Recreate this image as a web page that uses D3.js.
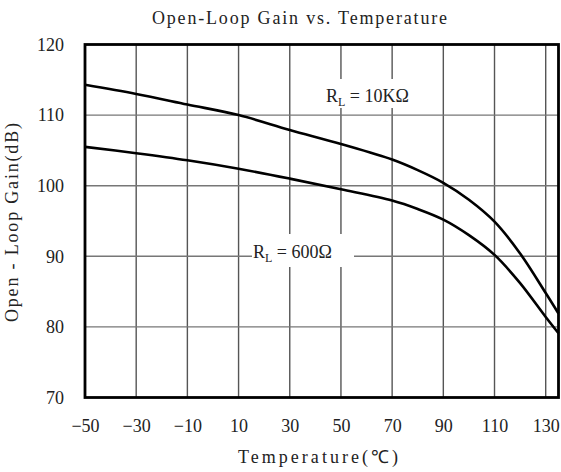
<!DOCTYPE html>
<html>
<head>
<meta charset="utf-8">
<script src="https://cdn.jsdelivr.net/npm/d3@7"></script>
<style>
  html, body { margin: 0; padding: 0; background: #fff; }
  svg { display: block; }
</style>
</head>
<body>
<svg id="chart" width="561" height="472"></svg>
<script>
// Open-loop gain (dB) versus ambient temperature (°C) for two load resistances
const temperature = [-50, -30, -10, 10, 30, 50, 70, 80, 90, 100, 110, 120, 130, 135];
const gain10k     = [114.3, 113.0, 111.5, 110.0, 107.9, 105.9, 103.7, 102.2, 100.4, 98.0, 94.9, 90.4, 84.8, 81.9];
const gain600     = [105.5, 104.6, 103.6, 102.4, 101.0, 99.5, 97.9, 96.7, 95.2, 93.0, 90.2, 86.2, 81.4, 79.1];
const xTicks = [-50, -30, -10, 10, 30, 50, 70, 90, 110, 130];
const yTicks = [70, 80, 90, 100, 110, 120];

const svg = d3.select("#chart");
const plotLeft = 85, plotRight = 558.5, plotTop = 44.5, plotBottom = 397.5;

const x = d3.scaleLinear().domain([-50, 135]).range([plotLeft, plotRight]);
const y = d3.scaleLinear().domain([70, 120]).range([plotBottom, plotTop]);

const serif = "'Liberation Serif', 'Times New Roman', serif";

// grid
const grid = svg.append("g");
grid.selectAll("line.v").data(xTicks.slice(1)).join("line")
  .attr("x1", d => x(d)).attr("x2", d => x(d))
  .attr("y1", plotTop).attr("y2", plotBottom)
  .attr("stroke", "#555").attr("stroke-width", 1.4);
grid.selectAll("line.h").data(yTicks.slice(1, -1)).join("line")
  .attr("x1", plotLeft).attr("x2", plotRight)
  .attr("y1", d => y(d)).attr("y2", d => y(d))
  .attr("stroke", "#777").attr("stroke-width", 1.4);

// axes (labels only; the frame is drawn separately)
const xAxis = svg.append("g").attr("transform", `translate(0,${plotBottom})`)
  .call(d3.axisBottom(x).tickValues(xTicks).tickSize(0).tickPadding(22)
    .tickFormat(d => d < 0 ? "\u2212" + Math.abs(d) : d));
xAxis.select(".domain").remove();
xAxis.selectAll("text").attr("font-family", serif).attr("font-size", 18).attr("fill", "#222");

const yAxis = svg.append("g").attr("transform", `translate(${plotLeft},0)`)
  .call(d3.axisLeft(y).tickValues(yTicks).tickSize(0).tickPadding(21));
yAxis.select(".domain").remove();
yAxis.selectAll("text").attr("font-family", serif).attr("font-size", 18).attr("fill", "#222");

// curves
const line = d3.line().x((d, i) => x(temperature[i])).y(d => y(d))
  .curve(d3.curveCatmullRom.alpha(0.5));
[gain10k, gain600].forEach(s => {
  svg.append("path").attr("d", line(s))
    .attr("fill", "none").attr("stroke", "#000").attr("stroke-width", 2.6);
});

// load labels with white backing
function loadLabel(x0, y0, w, h, tx, ty, value) {
  svg.append("rect").attr("x", x0).attr("y", y0).attr("width", w).attr("height", h).attr("fill", "#fff");
  const t = svg.append("text").attr("x", tx).attr("y", ty)
    .attr("font-family", serif).attr("font-size", 18).attr("fill", "#222");
  t.append("tspan").text("R");
  t.append("tspan").attr("font-size", 12).attr("dy", 4).text("L");
  t.append("tspan").attr("dy", -4).text(" = " + value + "\u03A9");
}
loadLabel(322, 79, 98, 29, 326, 102, "10K");
loadLabel(252, 234, 102, 33, 253, 258, "600");

// frame
svg.append("rect").attr("x", plotLeft).attr("y", plotTop)
  .attr("width", plotRight - plotLeft).attr("height", plotBottom - plotTop)
  .attr("fill", "none").attr("stroke", "#000").attr("stroke-width", 2.8);

// titles (spaced out to a fixed width)
svg.append("text").attr("x", 152).attr("y", 24)
  .attr("font-family", serif).attr("font-size", 18).attr("fill", "#222")
  .attr("textLength", 295).attr("lengthAdjust", "spacing")
  .text("Open-Loop Gain vs. Temperature");
svg.append("text").attr("x", 238).attr("y", 463)
  .attr("font-family", serif).attr("font-size", 18).attr("fill", "#222")
  .attr("textLength", 160).attr("lengthAdjust", "spacing")
  .text("Temperature(\u2103)");
svg.append("text").attr("transform", "translate(18,322) rotate(-90)")
  .attr("font-family", serif).attr("font-size", 18).attr("fill", "#222")
  .attr("textLength", 199).attr("lengthAdjust", "spacing")
  .text("Open - Loop Gain(dB)");
</script>
</body>
</html>
